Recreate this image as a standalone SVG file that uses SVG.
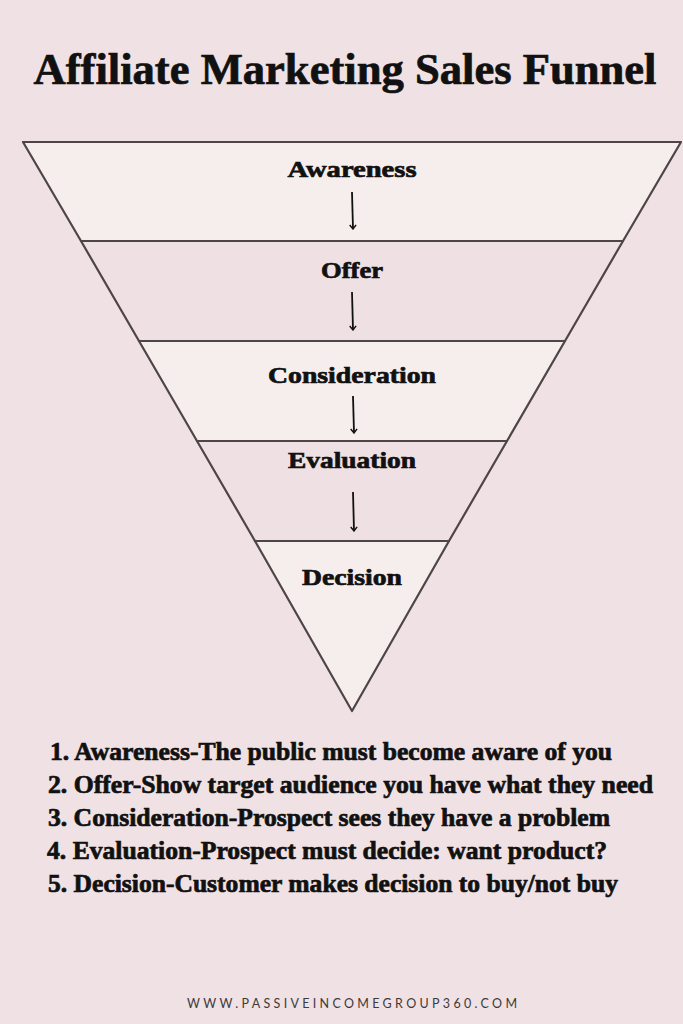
<svg xmlns="http://www.w3.org/2000/svg" width="683" height="1024" viewBox="0 0 683 1024">
<style>
.t{font-family:"Liberation Serif","DejaVu Serif",serif;font-weight:bold;fill:#111;stroke:#111;stroke-width:0.7;}
.lab{font-size:24px;text-anchor:middle;}
.li{font-size:25px;}
.band{stroke:#4d4547;stroke-width:2.2;stroke-linejoin:round;}
.lt{fill:#f6eeed;}
.dk{fill:#efe0e3;}
.arr{stroke:#111;stroke-width:1.8;fill:none;}
</style>
<defs>
<marker id="ah" viewBox="0 0 10 10" refX="9" refY="5" markerWidth="8" markerHeight="8" markerUnits="userSpaceOnUse" orient="auto">
<path d="M4,1 L9,5 L4,9" fill="none" stroke="#111" stroke-width="1.8"/>
</marker>
</defs>
<rect width="683" height="1024" fill="#f0e1e4"/>
<text class="t" x="345" y="84" font-size="44" text-anchor="middle" textLength="623" lengthAdjust="spacingAndGlyphs" stroke-width="1">Affiliate Marketing Sales Funnel</text>
<g id="funnel">
<g id="n-awareness"><polygon class="band lt" points="23,142 681,142 623,241 81,241"/><text class="t lab" x="352" y="177" textLength="129" lengthAdjust="spacingAndGlyphs">Awareness</text></g>
<g id="n-offer"><polygon class="band dk" points="81,241 623,241 565,341 139,341"/><text class="t lab" x="352" y="278" textLength="62" lengthAdjust="spacingAndGlyphs">Offer</text></g>
<g id="n-consideration"><polygon class="band lt" points="139,341 565,341 507,441 197,441"/><text class="t lab" x="352" y="383" textLength="168" lengthAdjust="spacingAndGlyphs">Consideration</text></g>
<g id="n-evaluation"><polygon class="band dk" points="197,441 507,441 449,541 255,541"/><text class="t lab" x="352" y="468" textLength="128" lengthAdjust="spacingAndGlyphs">Evaluation</text></g>
<g id="n-decision"><polygon class="band lt" points="255,541 449,541 352,711"/><text class="t lab" x="352" y="585" textLength="100" lengthAdjust="spacingAndGlyphs">Decision</text></g>
</g>
<g id="connectors">
<line class="arr" x1="352" y1="192" x2="353" y2="229" marker-end="url(#ah)"/>
<line class="arr" x1="352" y1="292" x2="353" y2="330" marker-end="url(#ah)"/>
<line class="arr" x1="353" y1="396" x2="354" y2="433" marker-end="url(#ah)"/>
<line class="arr" x1="353" y1="492" x2="354" y2="531" marker-end="url(#ah)"/>
</g>
<g id="list">
<text class="t li" x="50" y="760" textLength="562" lengthAdjust="spacingAndGlyphs">1. Awareness-The public must become aware of you</text>
<text class="t li" x="48" y="793" textLength="605" lengthAdjust="spacingAndGlyphs">2. Offer-Show target audience you have what they need</text>
<text class="t li" x="48" y="826" textLength="562" lengthAdjust="spacingAndGlyphs">3. Consideration-Prospect sees they have a problem</text>
<text class="t li" x="47" y="859" textLength="560" lengthAdjust="spacingAndGlyphs">4. Evaluation-Prospect must decide: want product?</text>
<text class="t li" x="48" y="892" textLength="570" lengthAdjust="spacingAndGlyphs">5. Decision-Customer makes decision to buy/not buy</text>
</g>
<text x="352" y="1008" font-family="Lato,'Open Sans',sans-serif" font-size="12.5" fill="#3d3a3b" text-anchor="middle" textLength="330" lengthAdjust="spacing">WWW.PASSIVEINCOMEGROUP360.COM</text>
</svg>
